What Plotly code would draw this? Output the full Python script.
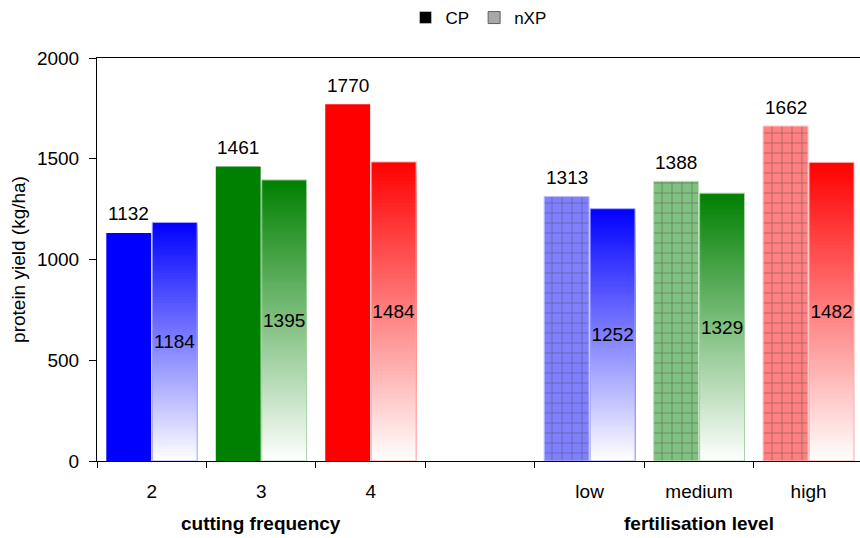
import plotly.graph_objects as go

# ---- data ----
categories = ["2", "3", "4", " ", "low", "medium", "high"]
cp_values = [1132, 1461, 1770, None, 1313, 1388, 1662]
nxp_values = [1184, 1395, 1484, None, 1252, 1329, 1482]
group_labels = ["cutting frequency", "fertilisation level"]
group_anchor = ["3", "medium"]
y_ticks = [0, 500, 1000, 1500, 2000]

# ---- styling ----
FONT = "Liberation Sans, Arial, sans-serif"
base_rgb = [(0, 0, 255), (0, 128, 0), (255, 0, 0), (0, 0, 0), (0, 0, 255), (0, 128, 0), (255, 0, 0)]
hatched = [False, False, False, False, True, True, True]
BAR_W = 0.41
CP_OFF = -0.415
NXP_OFF = 0.005
N_SEG = 80


def mix(rgb, t):
    # t=1 -> full colour, t=0 -> white
    r, g, b = (int(round(255 + (c - 255) * t)) for c in rgb)
    return f"rgb({r},{g},{b})"


def hexs(rgb):
    return "#%02x%02x%02x" % rgb


fig = go.Figure()

# CP bars (solid or hatched)
cp_fill = [mix(c, 0.5) if h else hexs(c) for c, h in zip(base_rgb, hatched)]
cp_line = [mix(c, 0.25) if h else hexs(c) for c, h in zip(base_rgb, hatched)]
cp_lw = [1 if h else 0 for h in hatched]
fig.add_trace(go.Bar(
    x=categories, y=cp_values, offset=CP_OFF, width=BAR_W,
    marker=dict(
        color=cp_fill,
        line=dict(color=cp_line, width=cp_lw),
        pattern=dict(shape=["+" if h else "" for h in hatched],
                     fgcolor=[hexs(c) for c in base_rgb],
                     size=10, solidity=0.16, fillmode="overlay"),
    ),
    showlegend=False, hoverinfo="skip",
))

# nXP bars: vertical gradient (colour at top -> white at bottom).
# Overlapping bars from the axis, tallest (darkest) first, so no seams appear.
for k in range(N_SEG):
    frac = (N_SEG - k) / N_SEG
    t = (N_SEG - k - 0.5) / N_SEG
    fig.add_trace(go.Bar(
        x=categories, y=[None if v is None else v * frac for v in nxp_values],
        offset=NXP_OFF, width=BAR_W,
        marker=dict(color=[mix(c, t) for c in base_rgb], line=dict(width=0)),
        showlegend=False, hoverinfo="skip",
    ))

# nXP outline + centred value labels
fig.add_trace(go.Bar(
    x=categories, y=nxp_values, offset=NXP_OFF, width=BAR_W,
    marker=dict(color="rgba(0,0,0,0)",
                line=dict(color=[mix(c, 0.35) for c in base_rgb], width=1)),
    text=[None if v is None else str(v) for v in nxp_values],
    textposition="inside", insidetextanchor="middle", textangle=0,
    constraintext="none", textfont=dict(family=FONT, size=19, color="black"),
    showlegend=False, hoverinfo="skip",
))

# legend-only entries
fig.add_trace(go.Bar(x=[None], y=[None], name="CP", marker=dict(color="black")))
fig.add_trace(go.Bar(x=[None], y=[None], name="nXP",
                     marker=dict(color="#a8a8a8", line=dict(color="#606060", width=1))))

annotations = []
for i, v in enumerate(cp_values):
    if v is None:
        continue
    annotations.append(dict(
        x=i + CP_OFF + BAR_W / 2, y=v, xref="x", yref="y", text=str(v),
        showarrow=False, yanchor="middle", yshift=19,
        font=dict(family=FONT, size=19, color="black"),
    ))
for lbl, anc in zip(group_labels, group_anchor):
    annotations.append(dict(
        x=categories.index(anc), y=-0.154, xref="x", yref="paper", text=f"<b>{lbl}</b>",
        showarrow=False, yanchor="middle",
        font=dict(family=FONT, size=19, color="black"),
    ))

fig.update_layout(
    width=860, height=538,
    margin=dict(l=97, r=0, t=58, b=77),
    paper_bgcolor="white", plot_bgcolor="white",
    barmode="overlay",
    font=dict(family=FONT, size=19, color="black"),
    legend=dict(orientation="h", x=0.5, xanchor="center", y=1.1, yanchor="middle",
                font=dict(family=FONT, size=17, color="black"), itemwidth=30,
                bgcolor="rgba(0,0,0,0)"),
    annotations=annotations,
    xaxis=dict(
        type="category", categoryorder="array", categoryarray=categories,
        range=[-0.5, 6.47], showline=True, linecolor="black", linewidth=1,
        mirror=True, ticks="outside", tickson="boundaries", ticklen=6,
        tickcolor="black", showgrid=False, zeroline=False,
        tickfont=dict(family=FONT, size=19, color="black"),
        ticklabelstandoff=13,
    ),
    yaxis=dict(
        range=[0, 2000], tickvals=y_ticks, showline=True, linecolor="black",
        linewidth=1, ticks="outside", ticklen=7, tickcolor="black",
        showgrid=False, zeroline=False, ticklabelstandoff=6,
        tickfont=dict(family=FONT, size=19, color="black"),
        title=dict(text="protein yield (kg/ha)",
                   font=dict(family=FONT, size=19, color="black"), standoff=6),
    ),
)

fig.write_html("out.html")
